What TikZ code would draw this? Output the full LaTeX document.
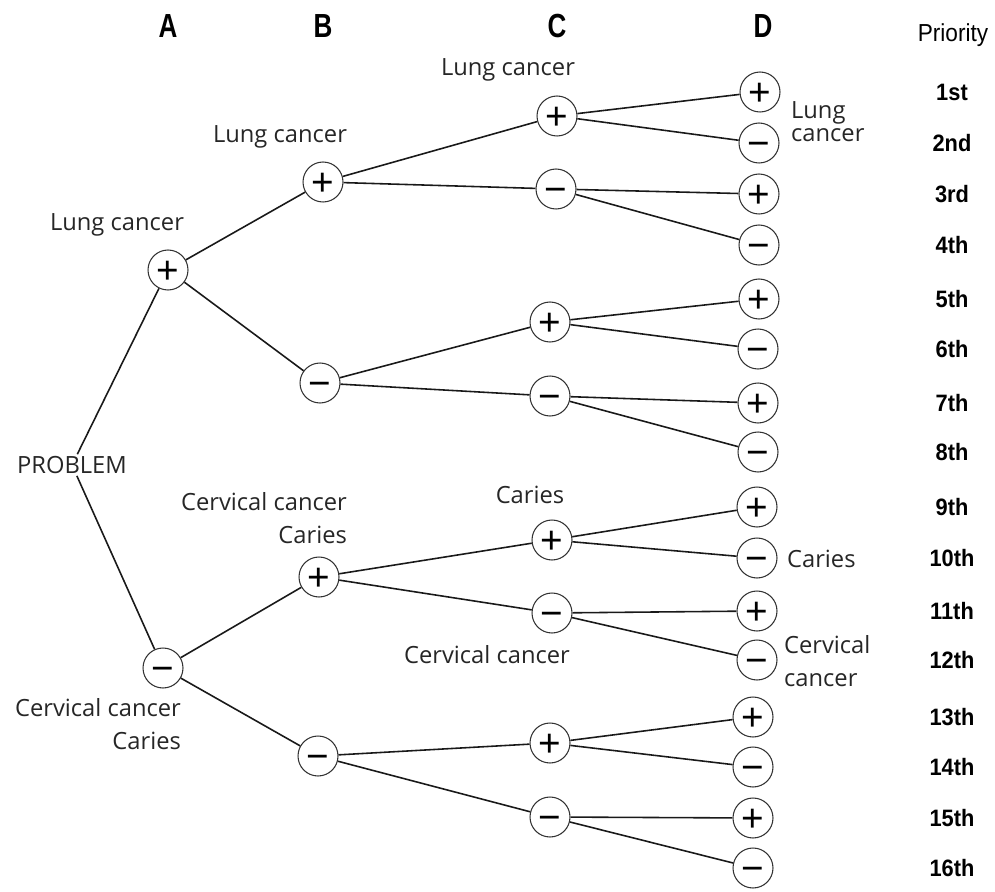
\documentclass[tikz,border=0pt]{standalone}
\usepackage{fontspec}
\setmainfont{Open Sans}
\newfontfamily\headfont[FakeStretch=0.78]{Liberation Sans}
\newfontfamily\rankfont[FakeStretch=0.92]{Liberation Sans}
\newfontfamily\signfont{Liberation Sans}
\usetikzlibrary{positioning}

\begin{document}
\begin{tikzpicture}[
    x=0.02cm, y=-0.02cm,
    font=\fontsize{13.5}{18.7}\selectfont,
    signNode/.style={
        circle, draw=black!80, line width=0.6pt, minimum size=0.8cm,
        inner sep=0pt, text height=15.6pt, text depth=0pt,
        font=\signfont\fontsize{22}{22}\selectfont
    },
    textLabel/.style={text=black!85, inner sep=1pt},
    colHead/.style={anchor=base, font=\headfont\bfseries\fontsize{19}{19}\selectfont},
    rankHead/.style={anchor=base, font=\rankfont\fontsize{14}{14}\selectfont},
    rankLabel/.style={font=\rankfont\bfseries\fontsize{13.5}{13.5}\selectfont},
    branch/.style={line width=0.9pt, draw=black!90}
]
\useasboundingbox (0,0) rectangle (995,892);

% Column headings
\node[colHead] (headA) at (168,38) {A};
\node[colHead] (headB) at (323,38) {B};
\node[colHead] (headC) at (557,38) {C};
\node[colHead] (headD) at (763,38) {D};
\node[rankHead] (headPrio) at (953,42) {Priority};

% Root and first split (A)
\node[textLabel] (problem) at (72,465) {PROBLEM};
\node[signNode] (a1) at (168,270) {+};
\node[signNode] (a2) at (163,668) {−};

% Second split (B)
\node[signNode] (b1) at (323,182) {+};
\node[signNode] (b2) at (320,383) {−};
\node[signNode] (b3) at (319,577) {+};
\node[signNode] (b4) at (318,756) {−};

% Third split (C)
\node[signNode] (c1) at (557,116) {+};
\node[signNode] (c2) at (556,189) {−};
\node[signNode] (c3) at (550,322) {+};
\node[signNode] (c4) at (550,396) {−};
\node[signNode] (c5) at (552,540) {+};
\node[signNode] (c6) at (552,613) {−};
\node[signNode] (c7) at (550,743) {+};
\node[signNode] (c8) at (550,817) {−};

% Leaves (D)
\node[signNode] (d1) at (760,92) {+};
\node[signNode] (d2) at (759,143) {−};
\node[signNode] (d3) at (759,194) {+};
\node[signNode] (d4) at (759,245) {−};
\node[signNode] (d5) at (759,299) {+};
\node[signNode] (d6) at (758,349) {−};
\node[signNode] (d7) at (758,403) {+};
\node[signNode] (d8) at (758,452) {−};
\node[signNode] (d9) at (757,507) {+};
\node[signNode] (d10) at (757,558) {−};
\node[signNode] (d11) at (757,611) {+};
\node[signNode] (d12) at (757,660) {−};
\node[signNode] (d13) at (753,717) {+};
\node[signNode] (d14) at (753,767) {−};
\node[signNode] (d15) at (753,818) {+};
\node[signNode] (d16) at (753,868) {−};

% Priority column
\node[rankLabel] (r1) at (952,92) {1st};
\node[rankLabel] (r2) at (952,143) {2nd};
\node[rankLabel] (r3) at (952,194) {3rd};
\node[rankLabel] (r4) at (952,245) {4th};
\node[rankLabel] (r5) at (952,299) {5th};
\node[rankLabel] (r6) at (952,349) {6th};
\node[rankLabel] (r7) at (952,403) {7th};
\node[rankLabel] (r8) at (952,452) {8th};
\node[rankLabel] (r9) at (952,507) {9th};
\node[rankLabel] (r10) at (952,558) {10th};
\node[rankLabel] (r11) at (952,611) {11th};
\node[rankLabel] (r12) at (952,660) {12th};
\node[rankLabel] (r13) at (952,717) {13th};
\node[rankLabel] (r14) at (952,767) {14th};
\node[rankLabel] (r15) at (952,818) {15th};
\node[rankLabel] (r16) at (952,868) {16th};

% Disease labels
\node[textLabel] (lblA1) at (117,225) {Lung cancer};
\node[textLabel] (lblB1) at (280,137) {Lung cancer};
\node[textLabel] (lblC1) at (508,70) {Lung cancer};
\node[textLabel, anchor=west, align=left, font=\fontsize{13.5}{13}\selectfont] (lblD1) at (789,122) {Lung\\cancer};
\node[textLabel, anchor=east, align=right] (lblB3) at (349,518) {Cervical cancer\\Caries};
\node[textLabel, anchor=east, align=right] (lblA2) at (183,724) {Cervical cancer\\Caries};
\node[textLabel] (lblC5) at (530,495) {Caries};
\node[textLabel] (lblC6) at (487,655) {Cervical cancer};
\node[textLabel, anchor=west] (lblD10) at (785,559) {Caries};
\node[textLabel, anchor=west, align=left] (lblD12) at (782,661) {Cervical\\cancer};

% Branches
\draw[branch] (problem) -- (a1);
\draw[branch] (problem) -- (a2);
\draw[branch] (a1) -- (b1);
\draw[branch] (a1) -- (b2);
\draw[branch] (a2) -- (b3);
\draw[branch] (a2) -- (b4);
\draw[branch] (b1) -- (c1);
\draw[branch] (b1) -- (c2);
\draw[branch] (b2) -- (c3);
\draw[branch] (b2) -- (c4);
\draw[branch] (b3) -- (c5);
\draw[branch] (b3) -- (c6);
\draw[branch] (b4) -- (c7);
\draw[branch] (b4) -- (c8);
\draw[branch] (c1) -- (d1);
\draw[branch] (c1) -- (d2);
\draw[branch] (c2) -- (d3);
\draw[branch] (c2) -- (d4);
\draw[branch] (c3) -- (d5);
\draw[branch] (c3) -- (d6);
\draw[branch] (c4) -- (d7);
\draw[branch] (c4) -- (d8);
\draw[branch] (c5) -- (d9);
\draw[branch] (c5) -- (d10);
\draw[branch] (c6) -- (d11);
\draw[branch] (c6) -- (d12);
\draw[branch] (c7) -- (d13);
\draw[branch] (c7) -- (d14);
\draw[branch] (c8) -- (d15);
\draw[branch] (c8) -- (d16);

\end{tikzpicture}
\end{document}
